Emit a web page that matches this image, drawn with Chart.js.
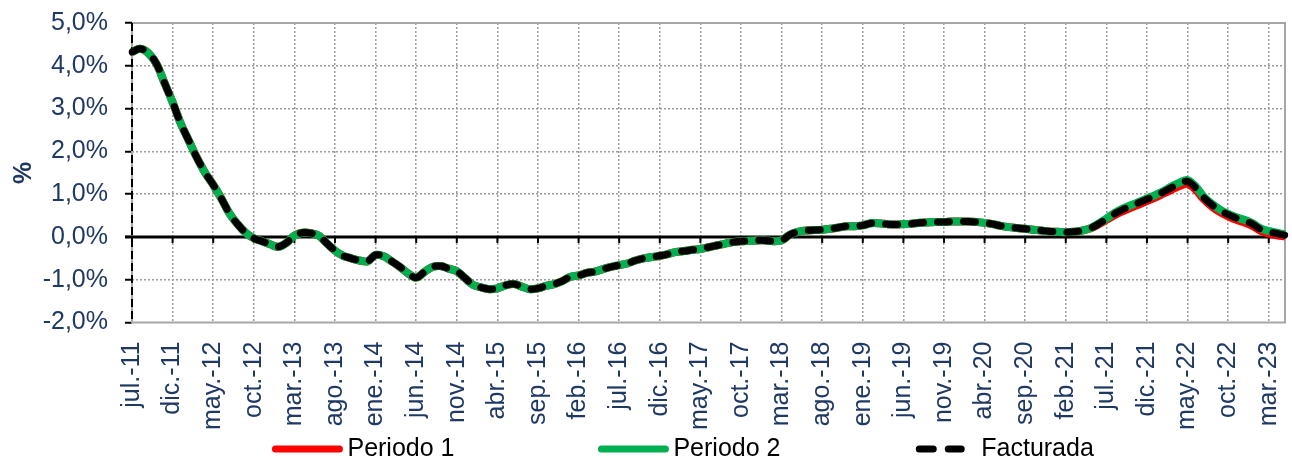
<!DOCTYPE html>
<html lang="es">
<head>
<meta charset="utf-8">
<title>Variación</title>
<script src="https://cdn.jsdelivr.net/npm/chart.js@4.4.1/dist/chart.umd.min.js"></script>
<style>
  html, body { margin: 0; padding: 0; background: #ffffff; }
  #wrap { width: 1292px; height: 460px; position: relative; }
</style>
</head>
<body>
<div id="wrap"><canvas id="chart"></canvas></div>
<script>
// Month abbreviations used to build the monthly category labels (jul.-11 … may.-23)
const MONTH_NAMES = ['ene.', 'feb.', 'mar.', 'abr.', 'may.', 'jun.', 'jul.', 'ago.', 'sep.', 'oct.', 'nov.', 'dic.'];
const FIRST_YEAR = 2011;
const FIRST_MONTH = 6;      // jul.
const MONTH_COUNT = 143;    // jul.-11 … may.-23
const LABEL_STEP = 5;       // one labelled tick every five months

const categories = [];
for (let k = 0; k < MONTH_COUNT; k++) {
  const m = FIRST_MONTH + k;
  const yy = FIRST_YEAR + Math.floor(m / 12);
  categories.push(MONTH_NAMES[m % 12] + '-' + String(yy % 100).padStart(2, '0'));
}

// Y-axis tick values (%)
const yTicks = [-2, -1, 0, 1, 2, 3, 4, 5];

// Series (%), monthly
const facturada = [
   4.32,  4.40,  4.30,  4.05,  3.60,  3.15,  2.65,  2.25,  1.85,  1.50,
   1.22,  0.90,  0.55,  0.30,  0.10, -0.03, -0.10, -0.17, -0.23, -0.14,
   0.03,  0.10,  0.09,  0.03, -0.15, -0.32, -0.44, -0.50, -0.55, -0.57,
  -0.42, -0.45, -0.57, -0.70, -0.85, -0.95, -0.82, -0.70, -0.68, -0.74,
  -0.80, -0.96, -1.12, -1.18, -1.22, -1.20, -1.13, -1.10, -1.16, -1.22,
  -1.20, -1.14, -1.10, -1.03, -0.93, -0.90, -0.84, -0.81, -0.75, -0.70,
  -0.66, -0.62, -0.55, -0.50, -0.47, -0.44, -0.40, -0.35, -0.33, -0.30,
  -0.28, -0.24, -0.20, -0.16, -0.12, -0.10, -0.09, -0.08, -0.08, -0.10,
  -0.08,  0.05,  0.12,  0.15,  0.16,  0.17,  0.19,  0.22,  0.25,  0.25,
   0.27,  0.32,  0.32,  0.30,  0.29,  0.30,  0.31,  0.33,  0.34,  0.35,
   0.35,  0.36,  0.36,  0.36,  0.35,  0.33,  0.30,  0.26,  0.23,  0.21,
   0.19,  0.17,  0.15,  0.13,  0.12,  0.11,  0.12,  0.15,  0.20,  0.30,
   0.42,  0.54,  0.64,  0.72,  0.80,  0.88,  0.96,  1.05,  1.15,  1.24,
   1.30,  1.15,  0.92,  0.75,  0.62,  0.52,  0.44,  0.38,  0.30,  0.18,
   0.12,  0.08,  0.04
];

const periodo1 = [
   4.32,  4.40,  4.30,  4.05,  3.60,  3.15,  2.65,  2.25,  1.85,  1.50,
   1.22,  0.90,  0.55,  0.30,  0.10, -0.03, -0.10, -0.17, -0.23, -0.14,
   0.03,  0.10,  0.09,  0.03, -0.15, -0.32, -0.44, -0.50, -0.55, -0.57,
  -0.42, -0.45, -0.57, -0.70, -0.85, -0.95, -0.82, -0.70, -0.68, -0.74,
  -0.80, -0.96, -1.12, -1.18, -1.22, -1.20, -1.13, -1.10, -1.16, -1.22,
  -1.20, -1.14, -1.10, -1.03, -0.93, -0.90, -0.84, -0.81, -0.75, -0.70,
  -0.66, -0.62, -0.55, -0.50, -0.47, -0.44, -0.40, -0.35, -0.33, -0.30,
  -0.28, -0.24, -0.20, -0.16, -0.12, -0.10, -0.09, -0.08, -0.08, -0.10,
  -0.08,  0.05,  0.12,  0.15,  0.16,  0.17,  0.19,  0.22,  0.25,  0.25,
   0.27,  0.32,  0.32,  0.30,  0.29,  0.30,  0.31,  0.33,  0.34,  0.35,
   0.35,  0.36,  0.36,  0.36,  0.35,  0.33,  0.30,  0.26,  0.23,  0.21,
   0.19,  0.17,  0.15,  0.13,  0.12,  0.11,  0.12,  0.15,  0.20,  0.29,
   0.40,  0.51,  0.60,  0.68,  0.76,  0.84,  0.92,  1.01,  1.10,  1.19,
   1.24,  1.10,  0.88,  0.71,  0.58,  0.48,  0.40,  0.34,  0.26,  0.14,
   0.08,  0.04,  0.01
];

const periodo2 = [
   4.32,  4.40,  4.30,  4.05,  3.60,  3.15,  2.65,  2.25,  1.85,  1.50,
   1.22,  0.90,  0.55,  0.30,  0.10, -0.03, -0.10, -0.17, -0.23, -0.14,
   0.03,  0.10,  0.09,  0.03, -0.15, -0.32, -0.44, -0.50, -0.55, -0.57,
  -0.42, -0.45, -0.57, -0.70, -0.85, -0.95, -0.82, -0.70, -0.68, -0.74,
  -0.80, -0.96, -1.12, -1.18, -1.22, -1.20, -1.13, -1.10, -1.16, -1.22,
  -1.20, -1.14, -1.10, -1.03, -0.93, -0.90, -0.84, -0.81, -0.75, -0.70,
  -0.66, -0.62, -0.55, -0.50, -0.47, -0.44, -0.40, -0.35, -0.33, -0.30,
  -0.28, -0.24, -0.20, -0.16, -0.12, -0.10, -0.09, -0.08, -0.08, -0.10,
  -0.08,  0.05,  0.12,  0.15,  0.16,  0.17,  0.19,  0.22,  0.25,  0.25,
   0.27,  0.32,  0.32,  0.30,  0.29,  0.30,  0.31,  0.33,  0.34,  0.35,
   0.35,  0.36,  0.36,  0.36,  0.35,  0.33,  0.30,  0.26,  0.23,  0.21,
   0.19,  0.17,  0.15,  0.13,  0.12,  0.11,  0.12,  0.15,  0.20,  0.31,
   0.43,  0.56,  0.66,  0.74,  0.82,  0.90,  0.98,  1.07,  1.18,  1.27,
   1.33,  1.18,  0.94,  0.77,  0.64,  0.54,  0.46,  0.40,  0.32,  0.20,
   0.14,  0.10,  0.06
];

const NAVY = '#1F3864';
const GRID_GREY = '#9A9A9A';
const FRAME_GREY = '#A6A6A6';
const FONT = '"Liberation Sans", Arial, sans-serif';
const FONT_SIZE = 25;
const RED = '#FF0000';
const GREEN = '#00B050';
const BLACK = '#000000';
const DASH = [12, 14];

const fmtPct = v => v.toFixed(1).replace('.', ',') + '%';

// Plot frame, dashed value axis, and the zero line with its month tick marks
const axesPlugin = {
  id: 'axesFrame',
  beforeDatasetsDraw(chart) {
    const { ctx, chartArea: a, scales: { x, y } } = chart;
    ctx.save();
    ctx.lineCap = 'butt';
    ctx.strokeStyle = FRAME_GREY;
    ctx.lineWidth = 2;
    ctx.beginPath();
    ctx.moveTo(a.left, a.top);
    ctx.lineTo(a.right, a.top);
    ctx.lineTo(a.right, a.bottom);
    ctx.lineTo(a.left, a.bottom);
    ctx.lineTo(a.left, a.top);
    ctx.stroke();

    ctx.strokeStyle = BLACK;
    ctx.setLineDash([8, 4]);
    ctx.beginPath();
    ctx.moveTo(a.left, a.top);
    ctx.lineTo(a.left, a.bottom);
    ctx.stroke();
    ctx.setLineDash([]);

    const y0 = y.getPixelForValue(0);
    ctx.lineWidth = 3;
    ctx.beginPath();
    ctx.moveTo(a.left - 7, y0);
    ctx.lineTo(a.right, y0);
    ctx.stroke();

    ctx.lineWidth = 2;
    for (let i = 0; i < categories.length; i += LABEL_STEP) {
      const px = x.getPixelForValue(i);
      ctx.beginPath();
      ctx.moveTo(px, y0);
      ctx.lineTo(px, y0 + 6);
      ctx.stroke();
    }
    ctx.restore();
  }
};

// Legend row under the month labels
const legendItems = [
  { text: 'Periodo 1', color: RED },
  { text: 'Periodo 2', color: GREEN },
  { text: 'Facturada', color: BLACK, dash: [14, 15, 13, 12, 0.01, 60] }
];
const legendPlugin = {
  id: 'bottomLegend',
  afterDraw(chart) {
    const { ctx, width, height } = chart;
    const starts = [0.2132, 0.4655, 0.7115];
    const yLine = height - 11;
    ctx.save();
    ctx.font = FONT_SIZE + 'px ' + FONT;
    ctx.textBaseline = 'middle';
    ctx.fillStyle = BLACK;
    legendItems.forEach((it, k) => {
      const x0 = width * starts[k];
      const len = it.dash ? 54 : 64;
      ctx.strokeStyle = it.color;
      ctx.lineWidth = 7;
      ctx.lineCap = 'round';
      ctx.setLineDash(it.dash || []);
      ctx.beginPath();
      ctx.moveTo(x0, yLine);
      ctx.lineTo(x0 + len, yLine);
      ctx.stroke();
      ctx.setLineDash([]);
      ctx.fillText(it.text, x0 + len + 8, yLine);
    });
    ctx.restore();
  }
};

new Chart(document.getElementById('chart'), {
  type: 'line',
  data: {
    labels: categories,
    datasets: [
      { label: 'Periodo 1', data: periodo1, borderColor: RED, borderWidth: 8, order: 3 },
      { label: 'Periodo 2', data: periodo2, borderColor: GREEN, borderWidth: 8, order: 2 },
      { label: 'Facturada', data: facturada, borderColor: BLACK, borderWidth: 7,
        borderDash: DASH, borderCapStyle: 'round', order: 1 }
    ]
  },
  options: {
    responsive: true,
    maintainAspectRatio: false,
    animation: false,
    devicePixelRatio: 1,
    layout: { padding: { top: 23, right: 7, bottom: 11, left: 6 } },
    elements: {
      point: { radius: 0, hoverRadius: 0 },
      line: { tension: 0.35, borderJoinStyle: 'round' }
    },
    plugins: {
      legend: { display: false },
      tooltip: { enabled: false }
    },
    scales: {
      x: {
        type: 'category',
        offset: false,
        afterFit: s => { s.paddingLeft = 0; s.paddingRight = 0; },
        border: { display: false, dash: [2, 2] },
        grid: {
          lineWidth: 1.5,
          drawTicks: false,
          color: c => (c.index % LABEL_STEP === 0 && c.index > 0) ? GRID_GREY : 'transparent'
        },
        ticks: {
          autoSkip: false,
          maxRotation: 90,
          minRotation: 90,
          padding: 19,
          color: NAVY,
          font: { family: FONT, size: FONT_SIZE },
          callback: function (v, i) { return i % LABEL_STEP === 0 ? this.getLabelForValue(v) : ''; }
        }
      },
      y: {
        min: -2,
        max: 5,
        afterBuildTicks: s => { s.ticks = yTicks.map(v => ({ value: v })); },
        afterFit: s => { s.width = 126; s.paddingTop = 0; s.paddingBottom = 0; },
        border: { display: false, dash: [2, 2] },
        grid: {
          lineWidth: 1.5,
          color: c => (c.tick && (c.tick.value === 0 || c.tick.value === 5 || c.tick.value === -2)) ? 'transparent' : GRID_GREY,
          tickColor: BLACK,
          tickLength: 7,
          tickWidth: 2
        },
        ticks: {
          padding: 17,
          color: NAVY,
          font: { family: FONT, size: FONT_SIZE },
          callback: v => fmtPct(v)
        },
        title: {
          display: true,
          text: '%',
          color: NAVY,
          font: { family: FONT, size: FONT_SIZE, weight: 'bold' },
          padding: { top: 3, bottom: 4 }
        }
      }
    }
  },
  plugins: [axesPlugin, legendPlugin]
});
</script>
</body>
</html>
